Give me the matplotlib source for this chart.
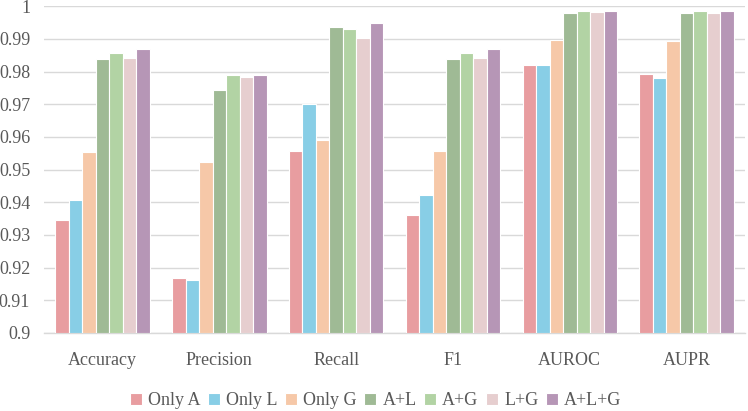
import numpy as np
import matplotlib
matplotlib.use('Agg')
import matplotlib.pyplot as plt
from matplotlib.ticker import FuncFormatter

plt.rcParams['font.family'] = ['Liberation Serif', 'DejaVu Serif']

metrics = ['Accuracy', 'Precision', 'Recall', 'F1', 'AUROC', 'AUPR']
models = ['Only A', 'Only L', 'Only G', 'A+L', 'A+G', 'L+G', 'A+L+G']
colors = ['#E89DA0', '#88CEE6', '#F6C8A8', '#9FBA95', '#B2D3A4', '#E6CECF', '#B696B6']

only_a = [0.9346, 0.9169, 0.9557, 0.9360, 0.9819, 0.9792]
only_l = [0.9406, 0.9162, 0.9701, 0.9423, 0.9819, 0.9780]
only_g = [0.9554, 0.9522, 0.9590, 0.9557, 0.9896, 0.9892]
a_l = [0.9837, 0.9743, 0.9936, 0.9837, 0.9980, 0.9978]
a_g = [0.9857, 0.9788, 0.9929, 0.9857, 0.9986, 0.9984]
l_g = [0.9842, 0.9783, 0.9904, 0.9842, 0.9981, 0.9979]
a_l_g = [0.9868, 0.9788, 0.9949, 0.9868, 0.9986, 0.9985]
series = [only_a, only_l, only_g, a_l, a_g, l_g, a_l_g]

fig = plt.figure(figsize=(7.48, 4.11), dpi=100)
ax = fig.add_axes([0.059, 0.19, 0.937, 0.795])

x = np.arange(len(metrics))
w = 0.1156
for i, (name, vals) in enumerate(zip(models, series)):
    ax.bar(x + (i - 3) * w, np.array(vals) - 0.9, w, bottom=0.9,
           color=colors[i], edgecolor='white', linewidth=0.8,
           label=name, zorder=3)

ax.set_xlim(-0.5, len(metrics) - 0.5)
ax.set_ylim(0.9, 1.0)
ax.set_yticks(np.arange(0.9, 1.0001, 0.01))
ax.yaxis.set_major_formatter(FuncFormatter(lambda v, p: f'{round(v, 2):g}'))
ax.set_xticks(x)
ax.set_xticklabels(metrics)
ax.grid(axis='y', color='#D9D9D9', linewidth=1, zorder=0)
for s in ['top', 'right', 'left']:
    ax.spines[s].set_visible(False)
ax.spines['bottom'].set_color('#D9D9D9')
ax.spines['bottom'].set_linewidth(1)
ax.tick_params(axis='both', length=0, labelsize=13, colors='#595959', pad=14)
ax.tick_params(axis='y', pad=10)

fig.legend(*ax.get_legend_handles_labels(), loc='center', ncol=7,
           bbox_to_anchor=(0.502, 0.025), frameon=False, fontsize=13,
           handlelength=0.67, handleheight=0.67, handletextpad=0.35,
           columnspacing=0.4, labelcolor='#595959')

fig.savefig('out.png', dpi=100)
